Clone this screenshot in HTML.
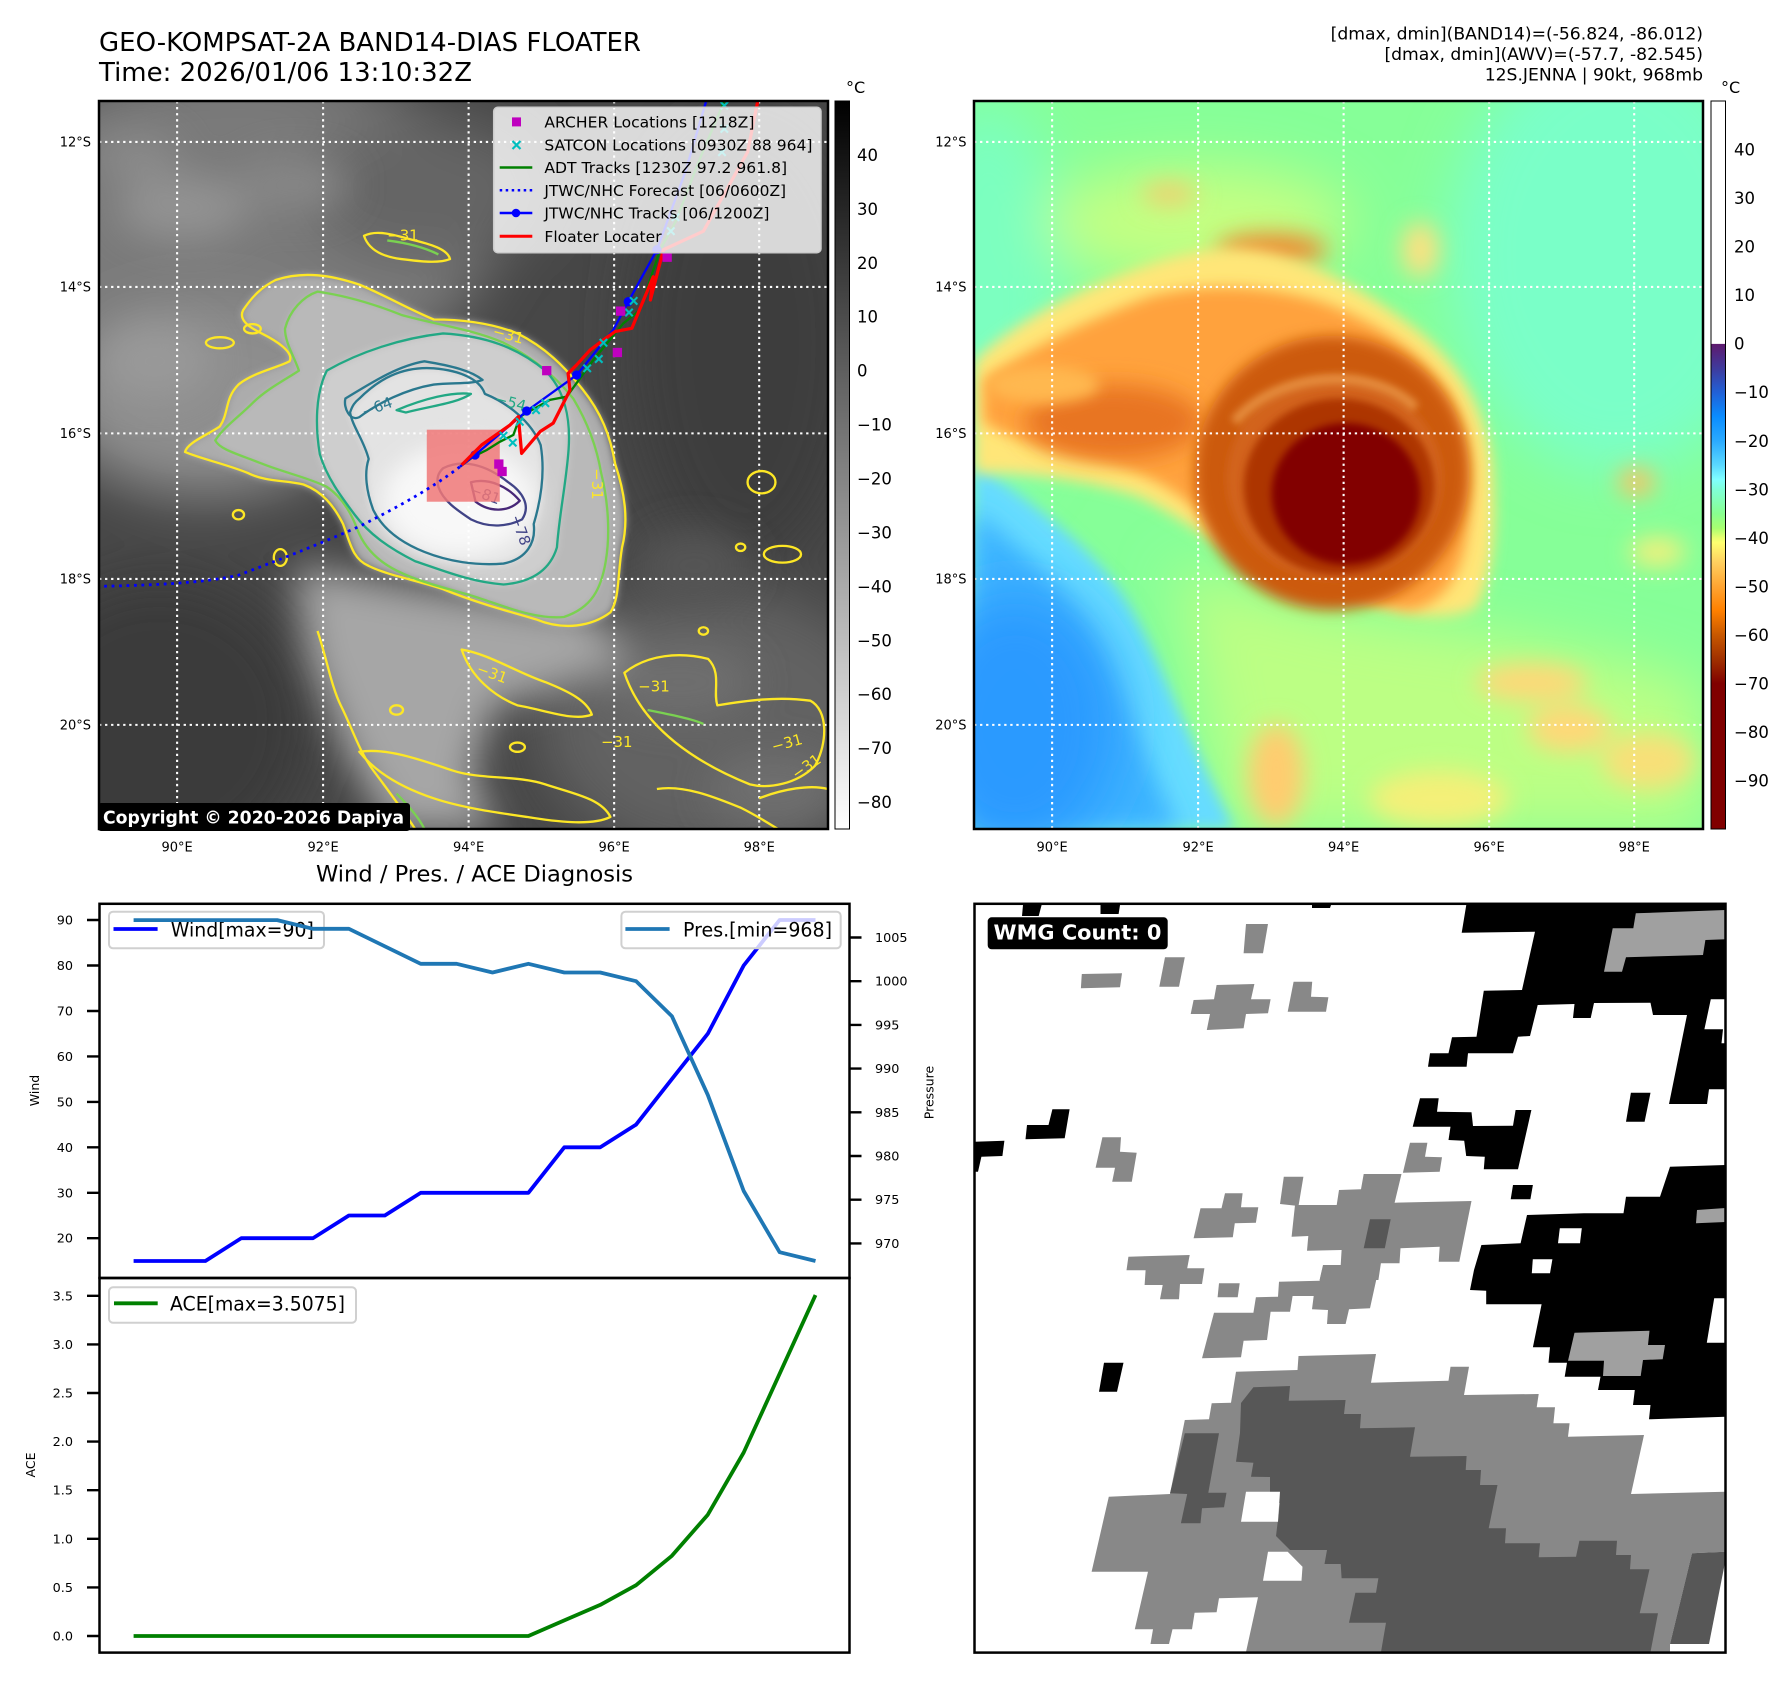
<!DOCTYPE html>
<html><head><meta charset="utf-8">
<style>
html,body{margin:0;padding:0;background:#fff;}
body{width:1792px;height:1690px;overflow:hidden;}
svg text{font-family:"DejaVu Sans","Liberation Sans",sans-serif;}
</style></head><body>
<svg width="1792" height="1690" viewBox="0 0 1792 1690" xmlns="http://www.w3.org/2000/svg">
<defs>
<filter id="f8" filterUnits="userSpaceOnUse" x="-400" y="-400" width="2400" height="2400"><feGaussianBlur stdDeviation="8"/></filter>
<filter id="f15" filterUnits="userSpaceOnUse" x="-400" y="-400" width="2400" height="2400"><feGaussianBlur stdDeviation="15"/></filter>
<filter id="f25" filterUnits="userSpaceOnUse" x="-400" y="-400" width="2400" height="2400"><feGaussianBlur stdDeviation="25"/></filter>
<filter id="f40" filterUnits="userSpaceOnUse" x="-400" y="-400" width="2400" height="2400"><feGaussianBlur stdDeviation="40"/></filter>
<filter id="f60" filterUnits="userSpaceOnUse" x="-400" y="-400" width="2400" height="2400"><feGaussianBlur stdDeviation="60"/></filter>
<linearGradient id="gcb1" x1="0" y1="0" x2="0" y2="1"><stop offset="0" stop-color="#000"/><stop offset="1" stop-color="#fff"/></linearGradient>
<linearGradient id="gcb2" x1="0" y1="0" x2="0" y2="1">
<stop offset="0" stop-color="#fff"/><stop offset="0.3333" stop-color="#fff"/>
<stop offset="0.3340" stop-color="#5e1a6e"/><stop offset="0.3667" stop-color="#3f3a9c"/>
<stop offset="0.4" stop-color="#2160d6"/><stop offset="0.4333" stop-color="#0a8cff"/>
<stop offset="0.4667" stop-color="#2aaaff"/><stop offset="0.5" stop-color="#5ad8ff"/>
<stop offset="0.52" stop-color="#80ffff"/><stop offset="0.5333" stop-color="#80ffd8"/>
<stop offset="0.5667" stop-color="#88ff90"/><stop offset="0.5867" stop-color="#a8ff70"/>
<stop offset="0.6" stop-color="#e8ff70"/><stop offset="0.6067" stop-color="#ffff70"/>
<stop offset="0.6333" stop-color="#ffd060"/><stop offset="0.6667" stop-color="#ffa532"/>
<stop offset="0.7" stop-color="#ff8000"/><stop offset="0.7333" stop-color="#c85800"/>
<stop offset="0.7667" stop-color="#a03000"/><stop offset="0.8" stop-color="#800000"/>
<stop offset="1" stop-color="#800000"/>
</linearGradient>
</defs>

<!-- Titles -->
<text x="99" y="51" font-size="25.6" fill="#000" textLength="542" lengthAdjust="spacingAndGlyphs">GEO-KOMPSAT-2A BAND14-DIAS FLOATER</text>
<text x="99" y="81" font-size="25.6" fill="#000" textLength="373" lengthAdjust="spacingAndGlyphs">Time: 2026/01/06 13:10:32Z</text>
<text x="1703" y="39.5" font-size="17.2" text-anchor="end" fill="#000">[dmax, dmin](BAND14)=(-56.824, -86.012)</text>
<text x="1703" y="60" font-size="17.2" text-anchor="end" fill="#000">[dmax, dmin](AWV)=(-57.7, -82.545)</text>
<text x="1703" y="80.7" font-size="17.2" text-anchor="end" fill="#000">12S.JENNA | 90kt, 968mb</text>

<!-- LEFT MAP -->
<svg x="99" y="101" width="729" height="728" viewBox="0 0 1568 1566" preserveAspectRatio="none">
<rect width="1568" height="1566" fill="#474747"/>
<g filter="url(#f60)">
<ellipse cx="300" cy="260" rx="560" ry="350" fill="#7a7a7a"/>
<ellipse cx="700" cy="190" rx="260" ry="160" fill="#656565"/>
<ellipse cx="230" cy="640" rx="330" ry="210" fill="#8e8e8e"/>
<ellipse cx="1390" cy="520" rx="250" ry="480" fill="#3d3d3d"/>
<ellipse cx="1330" cy="1340" rx="380" ry="290" fill="#626262"/>
<ellipse cx="130" cy="1340" rx="330" ry="320" fill="#3b3b3b"/>
</g>
<g filter="url(#f40)">
<path d="M420,1000 L700,1050 L1050,1100 L1150,1200 L1000,1260 L850,1300 L800,1450 L860,1568 L630,1568 L530,1400 L450,1200 Z" fill="#a6a6a6"/>
<ellipse cx="180" cy="230" rx="140" ry="70" fill="#929292"/>
<ellipse cx="420" cy="180" rx="120" ry="60" fill="#868686"/>
<ellipse cx="80" cy="120" rx="90" ry="50" fill="#8a8a8a"/>
<ellipse cx="120" cy="560" rx="120" ry="80" fill="#999"/>
<ellipse cx="1280" cy="1000" rx="120" ry="80" fill="#555"/>
<ellipse cx="1250" cy="1250" rx="160" ry="80" fill="#6e6e6e"/>
<ellipse cx="1450" cy="1480" rx="140" ry="80" fill="#6e6e6e"/>
</g>
<g filter="url(#f8)">
<path d="M380,385 C440,365 500,375 560,395 C620,420 660,445 720,470 C790,470 850,480 900,500 C960,530 1000,570 1040,620 C1080,670 1100,720 1110,780 C1130,840 1140,900 1125,960 C1115,1020 1120,1070 1100,1100 C1060,1130 1000,1140 940,1115 C870,1095 800,1075 740,1050 C680,1030 620,1020 580,1000 C545,985 540,950 525,910 C505,870 480,840 440,825 C400,815 360,820 320,800 C270,780 220,770 185,755 C190,735 230,720 260,700 C280,670 270,640 300,610 C330,585 380,575 410,560 C420,540 380,515 350,500 C320,485 300,470 310,450 C330,420 350,400 380,385 Z" fill="#acacac"/>
<path d="M470,410 C540,420 600,440 650,460 C720,480 800,490 870,520 C930,550 980,590 1020,640 C1050,690 1070,740 1080,800 C1095,860 1100,930 1090,990 C1080,1050 1060,1090 1000,1110 C940,1115 880,1090 820,1070 C760,1050 700,1040 640,1010 C600,990 570,960 555,920 C540,880 520,850 490,830 C450,810 400,800 350,780 C300,760 260,750 250,730 C270,700 300,680 330,650 C360,620 400,600 430,580 C420,550 400,520 400,490 C410,450 440,420 470,410 Z" fill="#b9b9b9"/>
<path d="M490,580 C560,540 650,510 740,500 C830,505 900,530 960,580 C1000,620 1015,680 1010,750 C1005,820 990,890 985,960 C970,1010 930,1035 870,1040 C800,1035 740,1010 680,990 C620,960 580,930 550,890 C520,850 490,810 475,760 C465,700 465,630 490,580 Z" fill="#cecece"/>
<path d="M560,640 C600,600 650,570 720,575 C780,580 820,600 830,630 C880,650 930,690 950,740 C960,800 950,860 935,910 C940,950 920,985 870,995 C810,1000 750,990 700,970 C650,950 610,920 590,880 C575,840 570,800 580,770 C570,730 545,700 540,670 C545,655 550,648 560,640 Z" fill="#e3e3e3"/>
</g>
<ellipse cx="775" cy="860" rx="165" ry="120" fill="#f8f8f8" filter="url(#f25)"/>
<!-- grid -->
<g stroke="#fff" stroke-width="4.5" stroke-dasharray="5 8" fill="none">
<path d="M168,0V1566M482,0V1566M795,0V1566M1108,0V1566M1420,0V1566"/>
<path d="M0,88H1568M0,400H1568M0,715H1568M0,1028H1568M0,1342H1568"/>
</g>
<!-- contours -->
<g fill="none" stroke-width="5" stroke-linejoin="round">
<path stroke="#fde725" d="M380,385 C440,365 500,375 560,395 C620,420 660,445 720,470 C790,470 850,480 900,500 C960,530 1000,570 1040,620 C1080,670 1100,720 1110,780 C1130,840 1140,900 1125,960 C1115,1020 1120,1070 1100,1100 C1060,1130 1000,1140 940,1115 C870,1095 800,1075 740,1050 C680,1030 620,1020 580,1000 C545,985 540,950 525,910 C505,870 480,840 440,825 C400,815 360,820 320,800 C270,780 220,770 185,755 C190,735 230,720 260,700 C280,670 270,640 300,610 C330,585 380,575 410,560 C420,540 380,515 350,500 C320,485 300,470 310,450 C330,420 350,400 380,385 Z"/>
<path stroke="#7ad151" d="M470,410 C540,420 600,440 650,460 C720,480 800,490 870,520 C930,550 980,590 1020,640 C1050,690 1070,740 1080,800 C1095,860 1100,930 1090,990 C1080,1050 1060,1090 1000,1110 C940,1115 880,1090 820,1070 C760,1050 700,1040 640,1010 C600,990 570,960 555,920 C540,880 520,850 490,830 C450,810 400,800 350,780 C300,760 260,750 250,730 C270,700 300,680 330,650 C360,620 400,600 430,580 C420,550 400,520 400,490 C410,450 440,420 470,410 Z"/>
<path stroke="#22a884" d="M490,580 C560,540 650,510 740,500 C830,505 900,530 960,580 C1000,620 1015,680 1010,750 C1005,820 990,890 985,960 C970,1010 930,1035 870,1040 C800,1035 740,1010 680,990 C620,960 580,930 550,890 C520,850 490,810 475,760 C465,700 465,630 490,580 Z"/>
<path stroke="#2a788e" d="M560,640 C600,600 650,570 720,575 C780,580 820,600 830,630 C880,650 930,690 950,740 C960,800 950,860 935,910 C940,950 920,985 870,995 C810,1000 750,990 700,970 C650,950 610,920 590,880 C575,840 570,800 580,770 C570,730 545,700 540,670 C545,655 550,648 560,640 Z"/>
<path stroke="#2a788e" d="M530,640 C580,610 640,570 700,560 C760,570 800,580 825,600 C800,610 760,605 720,610 C660,620 600,650 560,680 C540,690 525,660 530,640 Z"/>
<path stroke="#22a884" d="M640,665 C700,640 760,625 800,630 C770,650 720,655 660,670 Z"/>
<path stroke="#414487" d="M740,790 C780,770 830,780 880,820 C910,840 930,870 910,900 C880,915 840,920 800,900 C770,880 740,860 730,830 C725,810 730,800 740,790 Z"/>
<path stroke="#482878" d="M800,820 C840,810 880,830 905,860 C880,885 840,885 810,862 Z"/>
<path stroke="#fde725" d="M570,290 C600,275 640,290 680,300 C720,310 750,320 755,340 C730,350 690,345 650,340 C610,335 580,320 570,290 Z"/>
<path stroke="#7ad151" d="M620,300 C660,305 700,315 730,330"/>
<ellipse stroke="#fde725" cx="1425" cy="820" rx="30" ry="24"/>
<ellipse stroke="#fde725" cx="1470" cy="975" rx="40" ry="18"/>
<path stroke="#fde725" d="M470,1140 C490,1200 500,1260 520,1300 C545,1350 560,1400 590,1440 C620,1480 650,1520 680,1566"/>
<path stroke="#fde725" d="M780,1180 C840,1190 900,1230 960,1250 C1010,1270 1050,1290 1060,1320 C1020,1335 960,1310 900,1300 C850,1280 800,1240 780,1180 Z"/>
<path stroke="#fde725" d="M1130,1230 C1180,1190 1250,1185 1310,1200 C1340,1230 1320,1270 1330,1300 C1390,1290 1460,1280 1530,1290 C1568,1310 1568,1380 1540,1430 C1500,1470 1440,1480 1400,1470 C1350,1450 1290,1420 1240,1380 C1190,1340 1150,1290 1130,1230 Z"/>
<path stroke="#7ad151" d="M1180,1310 C1230,1320 1280,1330 1300,1340"/>
<path stroke="#fde725" d="M560,1400 C620,1390 700,1420 760,1440 C820,1460 900,1450 960,1470 C1020,1490 1080,1500 1100,1540 C1060,1560 980,1550 920,1540 C850,1530 780,1520 720,1500 C660,1480 600,1450 560,1400 Z"/>
<path stroke="#fde725" d="M1200,1480 C1260,1470 1330,1500 1380,1520 C1420,1540 1450,1560 1460,1566"/>
<path stroke="#fde725" d="M1420,1500 C1470,1480 1530,1470 1568,1480"/>
<path stroke="#7ad151" d="M640,1490 C670,1520 690,1545 700,1566"/>
<ellipse stroke="#fde725" cx="390" cy="982" rx="14" ry="18"/>
<ellipse stroke="#fde725" cx="260" cy="520" rx="30" ry="12"/>
<ellipse stroke="#fde725" cx="330" cy="490" rx="18" ry="10"/>
<ellipse stroke="#fde725" cx="300" cy="890" rx="12" ry="10"/>
<ellipse stroke="#fde725" cx="1380" cy="960" rx="10" ry="8"/>
<ellipse stroke="#fde725" cx="1300" cy="1140" rx="10" ry="8"/>
<ellipse stroke="#fde725" cx="640" cy="1310" rx="14" ry="10"/>
<ellipse stroke="#fde725" cx="900" cy="1390" rx="16" ry="10"/>
</g>
<g font-size="32" font-family="DejaVu Sans, sans-serif">
<text x="845" y="505" fill="#fde725" transform="rotate(15 845 505)">−31</text>
<text x="620" y="300" fill="#fde725">−31</text>
<text x="850" y="650" fill="#22a884" transform="rotate(15 850 650)">−54</text>
<text x="570" y="680" fill="#2a788e" transform="rotate(-20 570 680)">−64</text>
<text x="795" y="845" fill="#414487" transform="rotate(20 795 845)">−81</text>
<text x="885" y="895" fill="#414487" transform="rotate(70 885 895)">−78</text>
<text x="1060" y="790" fill="#fde725" transform="rotate(90 1060 790)">−31</text>
<text x="810" y="1230" fill="#fde725" transform="rotate(20 810 1230)">−31</text>
<text x="1160" y="1270" fill="#fde725">−31</text>
<text x="1080" y="1390" fill="#fde725">−31</text>
<text x="1450" y="1400" fill="#fde725" transform="rotate(-15 1450 1400)">−31</text>
<text x="1500" y="1460" fill="#fde725" transform="rotate(-35 1500 1460)">−31</text>
</g>
<rect x="705" y="707" width="157" height="155" fill="#f07878" fill-opacity="0.85"/>
<!-- tracks -->
<path d="M776,787 C720,830 650,870 560,915 C470,955 380,990 300,1020 C220,1038 100,1042 0,1044" fill="none" stroke="#0000ff" stroke-width="6" stroke-dasharray="6 10"/>
<path d="M1345,0 L1290,130 L1240,260 L1206.7,320.5 L1163.7,449.6 L1127.8,478.2 L1063.3,557.1 L1006,636 L970,643 L905.6,679 L891.2,718.4 L862.6,732.8 L834,750.7 L805.1,765.1 L776.5,786.6" fill="none" stroke="#008000" stroke-width="5"/>
<path d="M1306,0 L1262,150 L1200,320 L1138.5,431.7 L1106,492.6 L1027.5,589.4 L920,666.8 L808.8,761.5 L776.5,786.6" fill="none" stroke="#0000ff" stroke-width="5"/>
<g fill="#0000ff"><circle cx="1200" cy="320" r="10"/><circle cx="1138.5" cy="431.7" r="10"/><circle cx="1027.5" cy="589.4" r="10"/><circle cx="920" cy="666.8" r="10"/><circle cx="808.8" cy="761.5" r="10"/></g>
<path d="M1417,0 L1395,110 L1300,280 L1214,320 L1186,428 L1192,378 L1146,489 L1110,496 L1085,514 L1056,536 L1027,568 L1009,586 L1013,622 L977,693 L949,711 L909,758 L902,679 L884,697 L823,740 L780,783" fill="none" stroke="#ff0000" stroke-width="7" stroke-linejoin="round"/>
<g stroke="#00bfbf" stroke-width="4.5">
<path d="M1077,512l16,16m0,-16l-16,16M1067,547l16,16m0,-16l-16,16M1042,567l16,16m0,-16l-16,16M952,642l16,16m0,-16l-16,16M932,657l16,16m0,-16l-16,16M897,682l16,16m0,-16l-16,16M882,727l16,16m0,-16l-16,16M862,712l16,16m0,-16l-16,16M1132,447l16,16m0,-16l-16,16M1142,422l16,16m0,-16l-16,16M1337,2l16,16m0,-16l-16,16M1337,52l16,16m0,-16l-16,16M1332,102l16,16m0,-16l-16,16M1232,242l16,16m0,-16l-16,16M1222,272l16,16m0,-16l-16,16"/>
</g>
<g fill="#bf00bf">
<rect x="953" y="570" width="20" height="20"/><rect x="1105" y="531" width="20" height="20"/>
<rect x="850" y="771" width="20" height="20"/><rect x="857" y="787" width="20" height="20"/>
<rect x="1212" y="326" width="20" height="20"/><rect x="1112" y="442" width="20" height="20"/>
</g>
</svg>
<rect x="99" y="101" width="729" height="728" fill="none" stroke="#000" stroke-width="2.5"/>

<!-- left legend -->
<rect x="493.7" y="107.3" width="327.3" height="145.4" rx="4" fill="#fff" fill-opacity="0.8" stroke="#cccccc" stroke-width="1.5"/>
<rect x="512" y="117.4" width="9" height="9" fill="#bf00bf"/>
<path d="M512.5,141l8,8m0,-8l-8,8" stroke="#00bfbf" stroke-width="2.2"/>
<line x1="499.7" y1="167.5" x2="532.3" y2="167.5" stroke="#008000" stroke-width="2.5"/>
<line x1="499.7" y1="190.3" x2="532.3" y2="190.3" stroke="#0000ff" stroke-width="2.5" stroke-dasharray="2.5 3.5"/>
<line x1="499.7" y1="213" x2="532.3" y2="213" stroke="#0000ff" stroke-width="2.5"/>
<circle cx="516" cy="213" r="4.3" fill="#0000ff"/>
<line x1="499.7" y1="236.3" x2="532.3" y2="236.3" stroke="#ff0000" stroke-width="3"/>
<g font-size="15.5" fill="#000">
<text x="544.4" y="127.4" textLength="210" lengthAdjust="spacingAndGlyphs">ARCHER Locations [1218Z]</text>
<text x="544.4" y="150.7" textLength="268" lengthAdjust="spacingAndGlyphs">SATCON Locations [0930Z 88 964]</text>
<text x="544.4" y="173" textLength="242.7" lengthAdjust="spacingAndGlyphs">ADT Tracks [1230Z 97.2 961.8]</text>
<text x="544.4" y="195.8" textLength="241.7" lengthAdjust="spacingAndGlyphs">JTWC/NHC Forecast [06/0600Z]</text>
<text x="544.4" y="218.5" textLength="225" lengthAdjust="spacingAndGlyphs">JTWC/NHC Tracks [06/1200Z]</text>
<text x="544.4" y="241.8" textLength="117.2" lengthAdjust="spacingAndGlyphs">Floater Locater</text>
</g>
<!-- copyright -->
<rect x="98" y="803" width="312" height="28" rx="3" fill="#000"/>
<text x="103" y="823.3" font-size="17.8" font-weight="bold" fill="#fff" textLength="301" lengthAdjust="spacingAndGlyphs">Copyright © 2020-2026 Dapiya</text>

<!-- left colorbar -->
<rect x="835" y="101" width="14.5" height="728" fill="url(#gcb1)" stroke="#000" stroke-width="1"/>
<text x="846" y="93" font-size="16" fill="#000">°C</text>
<g font-size="16.5" fill="#000">
<text x="857" y="160.9">40</text><text x="857" y="214.9">30</text><text x="857" y="268.8">20</text>
<text x="857" y="322.7">10</text><text x="857" y="376.6">0</text><text x="857" y="430.6">−10</text>
<text x="857" y="484.5">−20</text><text x="857" y="538.4">−30</text><text x="857" y="592.4">−40</text>
<text x="857" y="646.3">−50</text><text x="857" y="700.2">−60</text><text x="857" y="754.1">−70</text>
<text x="857" y="808.1">−80</text>
</g>

<!-- map tick labels -->
<g font-size="13" fill="#000" text-anchor="end">
<text x="91" y="146.4">12°S</text><text x="91" y="291.5">14°S</text><text x="91" y="437.9">16°S</text><text x="91" y="583.5">18°S</text><text x="91" y="729.5">20°S</text>
<text x="966.5" y="146.4">12°S</text><text x="966.5" y="291.5">14°S</text><text x="966.5" y="437.9">16°S</text><text x="966.5" y="583.5">18°S</text><text x="966.5" y="729.5">20°S</text>
</g>
<g font-size="13" fill="#000" text-anchor="middle">
<text x="177.1" y="851.5">90°E</text><text x="323.1" y="851.5">92°E</text><text x="468.6" y="851.5">94°E</text><text x="614.1" y="851.5">96°E</text><text x="759.2" y="851.5">98°E</text>
<text x="1052.1" y="851.5">90°E</text><text x="1198.1" y="851.5">92°E</text><text x="1343.6" y="851.5">94°E</text><text x="1489.1" y="851.5">96°E</text><text x="1634.2" y="851.5">98°E</text>
</g>

<!-- RIGHT MAP -->
<svg x="974" y="101" width="729" height="728" viewBox="0 0 1568 1566" preserveAspectRatio="none">
<rect width="1568" height="1566" fill="#86ff98"/>
<g filter="url(#f60)">
<ellipse cx="1380" cy="330" rx="360" ry="470" fill="#7affc8"/>
<ellipse cx="30" cy="420" rx="170" ry="420" fill="#7cffc0"/>
<ellipse cx="480" cy="260" rx="330" ry="120" fill="#c4ff82"/>
<path d="M430,1000 C600,1060 800,1110 1000,1130 C1200,1160 1450,1210 1568,1260 L1568,1566 L560,1566 C520,1450 480,1200 430,1000 Z" fill="#bcff84"/>
</g>
<g filter="url(#f25)">
<ellipse cx="1200" cy="1250" rx="120" ry="40" fill="#ffd878"/>
<ellipse cx="650" cy="1450" rx="60" ry="110" fill="#ffcc70"/>
<ellipse cx="1000" cy="1500" rx="150" ry="60" fill="#f4f078"/>
<ellipse cx="1450" cy="1420" rx="100" ry="60" fill="#f8e078"/>
<ellipse cx="1280" cy="1350" rx="90" ry="50" fill="#ffd878"/>
<ellipse cx="1425" cy="820" rx="40" ry="30" fill="#ffc060"/>
<ellipse cx="640" cy="320" rx="120" ry="35" fill="#f08a30"/>
<ellipse cx="960" cy="320" rx="40" ry="60" fill="#ffe080"/>
<ellipse cx="1470" cy="970" rx="60" ry="30" fill="#f8f07a"/>
<ellipse cx="420" cy="200" rx="60" ry="25" fill="#f0d070"/>
</g>
<path d="M0,780 C120,860 260,960 330,1080 C400,1200 450,1350 560,1566 L0,1566 Z" fill="#66dcff" filter="url(#f15)"/>
<path d="M0,880 C100,960 200,1050 260,1160 C320,1280 370,1420 440,1566 L0,1566 Z" fill="#3cb4ff" filter="url(#f25)"/>
<ellipse cx="90" cy="1340" rx="220" ry="280" fill="#2a9aff" filter="url(#f60)"/>
<path d="M0,560 C80,480 200,420 300,380 C420,330 540,300 650,330 C760,360 860,420 950,490 C1040,560 1100,660 1115,780 C1125,900 1120,1020 1080,1090 C1020,1120 940,1110 860,1080 C760,1040 660,1010 560,970 C480,930 420,880 350,850 C260,820 140,800 0,800 Z" fill="#ffe678" filter="url(#f15)"/>
<path d="M20,600 C120,530 250,470 380,420 C500,390 620,395 740,430 C860,470 960,540 1020,630 C1070,720 1075,830 1060,930 C1050,1020 1010,1080 940,1095 C870,1090 800,1060 720,1020 C630,980 550,940 480,880 C410,820 340,790 250,770 C150,750 60,720 20,690 Z" fill="#ffa23c" filter="url(#f15)"/>
<ellipse cx="300" cy="690" rx="190" ry="80" fill="#e87420" filter="url(#f25)"/>
<ellipse cx="150" cy="610" rx="120" ry="40" fill="#ffb850" filter="url(#f15)"/>
<ellipse cx="770" cy="800" rx="295" ry="295" fill="#cc5a0c" filter="url(#f15)"/>
<ellipse cx="775" cy="812" rx="232" ry="218" fill="#d2641a" filter="url(#f8)"/>
<path d="M560,690 C620,620 720,590 820,600 C880,610 920,630 950,660" fill="none" stroke="#e58c3c" stroke-width="22" filter="url(#f8)"/>
<ellipse cx="785" cy="830" rx="205" ry="190" fill="#ad3600" filter="url(#f8)"/>
<ellipse cx="800" cy="845" rx="160" ry="152" fill="#820000" filter="url(#f8)"/>
<g stroke="#fff" stroke-width="4.5" stroke-dasharray="5 8" fill="none">
<path d="M168,0V1566M482,0V1566M795,0V1566M1108,0V1566M1420,0V1566"/>
<path d="M0,88H1568M0,400H1568M0,715H1568M0,1028H1568M0,1342H1568"/>
</g>
</svg>
<rect x="974" y="101" width="729" height="728" fill="none" stroke="#000" stroke-width="2.5"/>

<!-- right colorbar -->
<rect x="1711" y="101" width="14.5" height="728" fill="url(#gcb2)" stroke="#000" stroke-width="1"/>
<text x="1721" y="93" font-size="16" fill="#000">°C</text>
<g font-size="16.5" fill="#000">
<text x="1734" y="155.5">40</text><text x="1734" y="204.1">30</text><text x="1734" y="252.7">20</text>
<text x="1734" y="301.2">10</text><text x="1734" y="349.7">0</text><text x="1734" y="398.2">−10</text>
<text x="1734" y="446.8">−20</text><text x="1734" y="495.3">−30</text><text x="1734" y="543.8">−40</text>
<text x="1734" y="592.3">−50</text><text x="1734" y="640.9">−60</text><text x="1734" y="689.4">−70</text>
<text x="1734" y="737.9">−80</text><text x="1734" y="786.5">−90</text>
</g>

<!-- BOTTOM LEFT CHART -->
<text x="474.5" y="881.7" font-size="22.4" text-anchor="middle" fill="#000" textLength="317" lengthAdjust="spacingAndGlyphs">Wind / Pres. / ACE Diagnosis</text>
<rect x="109" y="911.7" width="215" height="36.6" rx="4" fill="#fff" fill-opacity="0.8" stroke="#d0d0d0" stroke-width="2"/>
<polyline fill="none" stroke="#0000ff" stroke-width="3.8" stroke-linejoin="round" points="133.6,1261 169.5,1261 205.4,1261 241.3,1238.2 277.2,1238.2 313,1238.2 348.9,1215.5 384.8,1215.5 420.7,1192.8 456.6,1192.8 492.5,1192.8 528.4,1192.8 564.3,1147.3 600.2,1147.3 636.1,1124.6 671.9,1079.1 707.8,1033.7 743.7,965.5 779.6,920 815.5,920"/>
<line x1="113.5" y1="929" x2="157.6" y2="929" stroke="#0000ff" stroke-width="3.8"/>
<text x="170.8" y="936.7" font-size="19.5" fill="#000" textLength="143" lengthAdjust="spacingAndGlyphs">Wind[max=90]</text>
<polyline fill="none" stroke="#1f77b4" stroke-width="3.8" stroke-linejoin="round" points="133.6,920.1 169.5,920.1 205.4,920.1 241.3,920.1 277.2,920.1 313,928.8 348.9,928.8 384.8,946.3 420.7,963.8 456.6,963.8 492.5,972.5 528.4,963.8 564.3,972.5 600.2,972.5 636.1,981.2 671.9,1016.2 707.8,1094.9 743.7,1191 779.6,1252.2 815.5,1261"/>
<rect x="621.4" y="911.7" width="219.3" height="36.6" rx="4" fill="#fff" fill-opacity="0.8" stroke="#d0d0d0" stroke-width="2"/>
<line x1="625.4" y1="929" x2="669.6" y2="929" stroke="#1f77b4" stroke-width="3.8"/>
<text x="683" y="936.7" font-size="19.5" fill="#000" textLength="149" lengthAdjust="spacingAndGlyphs">Pres.[min=968]</text>
<polyline fill="none" stroke="#008000" stroke-width="3.8" stroke-linejoin="round" points="133.6,1636 169.5,1636 205.4,1636 241.3,1636 277.2,1636 313,1636 348.9,1636 384.8,1636 420.7,1636 456.6,1636 492.5,1636 528.4,1636 564.3,1620.4 600.2,1604.9 636.1,1585.2 671.9,1555.8 707.8,1514.7 743.7,1452.5 779.6,1373.8 815.5,1295.1"/>
<rect x="109" y="1287.3" width="247" height="35.4" rx="4" fill="#fff" fill-opacity="0.8" stroke="#d0d0d0" stroke-width="2"/>
<line x1="114" y1="1303.3" x2="157.7" y2="1303.3" stroke="#008000" stroke-width="3.8"/>
<text x="170" y="1310.7" font-size="19.5" fill="#000" textLength="175" lengthAdjust="spacingAndGlyphs">ACE[max=3.5075]</text>
<rect x="99.5" y="903.8" width="750" height="374.2" fill="none" stroke="#000" stroke-width="2.5"/>
<rect x="99.5" y="1278" width="750" height="374.6" fill="none" stroke="#000" stroke-width="2.5"/>
<g stroke="#000" stroke-width="2.4">
<path d="M87,920H99.5M87,965.5H99.5M87,1011H99.5M87,1056.4H99.5M87,1101.9H99.5M87,1147.3H99.5M87,1192.8H99.5M87,1238.2H99.5"/>
<path d="M849.5,937.5H861.5M849.5,981.2H861.5M849.5,1024.9H861.5M849.5,1068.6H861.5M849.5,1112.3H861.5M849.5,1156H861.5M849.5,1199.7H861.5M849.5,1243.4H861.5"/>
<path d="M87,1295.8H99.5M87,1344.4H99.5M87,1393H99.5M87,1441.6H99.5M87,1490.2H99.5M87,1538.8H99.5M87,1587.4H99.5M87,1636H99.5"/>
</g>
<g font-size="12.8" fill="#000" text-anchor="end">
<text x="73" y="924.5">90</text><text x="73" y="970">80</text><text x="73" y="1015.5">70</text><text x="73" y="1060.9">60</text>
<text x="73" y="1106.4">50</text><text x="73" y="1151.8">40</text><text x="73" y="1197.3">30</text><text x="73" y="1242.7">20</text>
<text x="73" y="1300.3">3.5</text><text x="73" y="1348.9">3.0</text><text x="73" y="1397.5">2.5</text><text x="73" y="1446.1">2.0</text>
<text x="73" y="1494.7">1.5</text><text x="73" y="1543.3">1.0</text><text x="73" y="1591.9">0.5</text><text x="73" y="1640.5">0.0</text>
</g>
<g font-size="12.8" fill="#000">
<text x="875" y="942">1005</text><text x="875" y="985.7">1000</text><text x="875" y="1029.4">995</text><text x="875" y="1073.1">990</text>
<text x="875" y="1116.8">985</text><text x="875" y="1160.5">980</text><text x="875" y="1204.2">975</text><text x="875" y="1247.9">970</text>
</g>
<text transform="translate(39,1090.5) rotate(-90)" font-size="12.5" text-anchor="middle" fill="#000">Wind</text>
<text transform="translate(35,1465) rotate(-90)" font-size="12.5" text-anchor="middle" fill="#000">ACE</text>
<text transform="translate(933.5,1092.5) rotate(-90)" font-size="12.5" text-anchor="middle" fill="#000">Pressure</text>

<!-- WMG PANEL -->
<rect x="974.5" y="903.8" width="751" height="748.8" fill="#fff"/>
<g fill="#888888">
<polygon points="1246,924 1268,924 1263,953.3 1243.6,953.3"/>
<polygon points="1081.8,974 1122,973.3 1120,987.3 1080.9,988.3"/>
<polygon points="1165,957.3 1184.8,957.3 1179,986.7 1159.3,986.7"/>
<polygon points="1216.6,985 1254.4,984 1251,999.3 1270.6,999.3 1268,1013.3 1246,1014 1243.6,1028.3 1206.8,1030 1210,1014 1190.7,1014 1193.6,1000 1214,999.3"/>
<polygon points="1293.6,981.7 1312.2,981.7 1311,996.7 1328.4,997.3 1326,1011.7 1287.7,1011.7"/>
<polygon points="1102.4,1137.3 1121,1137.3 1120,1151.7 1136.7,1152.7 1131.8,1181.7 1112.2,1181.7 1115,1167.7 1095.6,1167.7"/>
<polygon points="1410,1142.7 1427.4,1142.7 1425,1156.7 1442,1157.3 1439.7,1171.7 1402.9,1172.7"/>
<polygon points="1225,1193.3 1242.6,1193.3 1241,1207.3 1258.3,1207.3 1255.9,1222.7 1234.8,1223.3 1232.8,1237.3 1193.6,1238.3 1200.5,1208.3 1221.5,1208.3"/>
<polygon points="1295,1205 1336.7,1205 1339,1190 1361,1189.3 1363.7,1174 1401.5,1174 1394.6,1202.7 1471.5,1201 1459.3,1261.7 1438.7,1261.7 1439.7,1246.7 1400.5,1248.3 1399.5,1263.3 1380.9,1263.3 1378.4,1280 1319.6,1280 1323,1265 1340.7,1265 1341.6,1250 1307,1250.7 1308.3,1236 1291.6,1236.7"/>
<polygon points="1202,1358.3 1214,1312.7 1253.4,1312.7 1255.9,1297.3 1278,1296.7 1279,1281.7 1319.6,1280.7 1322,1270 1378.4,1270 1370,1308.3 1349,1309.3 1345.6,1324 1327,1324 1328,1310 1312,1309.3 1313.7,1296 1292.6,1296 1290,1311.7 1270.6,1311.7 1267,1340 1243.6,1340.7 1241,1357.3"/>
<polygon points="1280,1204 1283.8,1176.7 1303.4,1176.7 1298.5,1206"/>
<polygon points="1128.4,1256.7 1189.7,1255 1187.2,1268.3 1204.4,1268.3 1202,1284 1180,1284 1179,1299.3 1160,1299.3 1162.7,1285 1144.6,1285 1145.6,1270.3 1126.5,1270.3"/>
<polygon points="1219,1283.3 1239.7,1283.3 1237.7,1297.3 1217.6,1297.3"/>
<polygon points="1236,1371.7 1297.5,1370 1298.5,1356 1376,1354 1371,1382.7 1448.5,1380.7 1450.5,1366.7 1469,1366.7 1464,1395 1538.7,1394 1536.7,1407.3 1555,1407.3 1553.4,1423.3 1569.6,1423.3 1568,1436.7 1644,1435 1631,1494 1725.5,1491.7 1725.5,1551.7 1692,1553.3 1670,1644 1670,1652 1246,1652 1258,1597.3 1219,1598.3 1216.6,1612.3 1194.6,1612.7 1192,1629.3 1172.5,1629.3 1169,1644 1150.5,1644 1153,1629.3 1134.8,1629.3 1148,1571.7 1091.6,1571.7 1108.8,1496.7 1170,1494 1184.8,1420 1209,1419.3 1211.7,1403.3 1231,1402.7"/>
</g>
<g fill="#575757">
<polygon points="1370,1219.3 1390.7,1219.3 1384.8,1248.3 1363.7,1248.3"/>
<polygon points="1253.4,1387.3 1290,1386 1288.7,1400.7 1345.6,1400 1344,1414 1361,1414 1360,1428.3 1415,1427.3 1410,1456.7 1466.6,1456 1465.7,1470 1481,1470 1480,1485 1497.5,1485 1488.7,1528.3 1506,1528.3 1505,1543.3 1540,1543.3 1538.7,1557.3 1576,1556.7 1579.4,1540.7 1617,1540.7 1616,1555 1631,1555 1630,1569.3 1649.5,1569.3 1639.7,1613.3 1658,1613.3 1650.5,1652 1381,1652 1386,1622.7 1349,1622.7 1355.4,1592.7 1376,1592.7 1378.4,1578.3 1341.6,1578.3 1340.7,1564 1324.5,1564 1327,1550 1290,1550 1276,1536 1280,1503 1270,1503 1270,1477 1251,1476.7 1253.4,1462.7 1236,1461.7 1240,1433 1241,1403"/>
<polygon points="1184.8,1433.3 1219,1433.3 1208.3,1492.7 1226.5,1492.7 1224,1507.3 1202,1508.3 1200.5,1523.3 1180.9,1523.3 1187.2,1494 1170,1493.3"/>
<polygon points="1692,1553.3 1725.5,1551.7 1725.5,1560 1709,1644 1670,1644"/>
</g>
<g fill="#fff">
<polygon points="1246,1491.7 1280,1491.7 1278,1521.7 1241,1521.7"/>
<polygon points="1268,1551.7 1287.7,1551.7 1302.5,1566.7 1301.5,1580.7 1263,1580.7"/>
</g>
<g fill="#000">
<polygon points="1466.6,903 1725.5,903 1725.5,1089.3 1709,1089.3 1707,1104 1669,1104 1687,1015 1653,1015 1650.5,1002.7 1594,1003 1590.7,1018 1573,1018 1574.5,1004 1537.7,1005 1530,1036 1518,1036.7 1513,1053.3 1468,1053.3 1466.6,1066.7 1428,1066.7 1430,1053.3 1448.5,1053.3 1452,1037.3 1476.5,1036.7 1483.8,990.7 1522,990 1535,931.7 1461.7,932.7"/>
<polygon points="1420,1098.3 1438.7,1098.3 1437,1111.7 1471.5,1112.3 1473,1126 1513,1125.7 1515.6,1110 1531.4,1110 1518,1169.3 1483.8,1169.3 1484.8,1156.7 1466.2,1156 1464.2,1140.7 1448.5,1140 1450.5,1126.7 1412.7,1126.7"/>
<polygon points="1527,1215 1584,1213.3 1623.5,1213.3 1626,1196.7 1660,1196.7 1670,1166.7 1725.5,1165 1725.5,1416.7 1649,1419.3 1650.5,1405 1633,1405 1634.8,1390 1598,1390 1600.5,1376.7 1564.7,1376.7 1567,1362.7 1548.5,1362.7 1550,1347.3 1532.9,1347.3 1541.6,1304.3 1486.2,1304.3 1486.2,1290.7 1470,1290 1474,1270 1481.4,1245 1520.6,1243.3"/>
<polygon points="1023,905 1041.6,905 1038.7,916 1022,916"/>
<polygon points="1100.5,905 1120,905 1118.6,914 1100.5,914"/>
<polygon points="1312,905 1331,905 1330,908 1312,908"/>
<polygon points="1052.4,1109.3 1069.6,1109.3 1064.7,1138.3 1025.5,1139.3 1027,1125 1048.5,1125"/>
<polygon points="974.5,1141.7 1004.4,1140.7 1002.4,1156 981.4,1156.7 978,1171.7 974.5,1171.7"/>
<polygon points="1630.9,1092.7 1650.5,1092.7 1644.6,1121.7 1626,1121.7"/>
<polygon points="1513,1185 1532.9,1185 1530.4,1199.3 1510.7,1199.3"/>
<polygon points="1104,1362.7 1123.5,1362.7 1117,1391.7 1099,1391.7"/>
</g>
<g fill="#a0a0a0">
<polygon points="1635.8,913.3 1725.5,910 1725.5,939.3 1705.4,940 1703,955 1626,957.3 1622,971.7 1604,971.7 1612.7,928.3 1633.3,928.3"/>
<polygon points="1574.5,1332.7 1649.5,1330.7 1648,1345 1665,1345 1662.7,1359.3 1643,1360 1640.7,1376 1603,1376 1604,1360.7 1568,1360.7"/>
<polygon points="1697,1210 1725.5,1208 1725.5,1222 1696,1223.3"/>
</g>
<g fill="#fff">
<polygon points="1710.8,999.3 1725.5,999.3 1725.5,1043.3 1721.5,1043.3 1723,1029.3 1704.4,1029.3"/>
<polygon points="1559.8,1228.3 1581.8,1228.3 1580,1243.3 1558,1243.3"/>
<polygon points="1532.8,1259.3 1552.4,1259.3 1550,1273.3 1531.8,1273.3"/>
<polygon points="1714.2,1298.3 1725.5,1298.3 1725.5,1342.7 1706.8,1342.7"/>
</g>
<rect x="974.5" y="903.8" width="751" height="748.8" fill="none" stroke="#000" stroke-width="2.5"/>
<rect x="987.7" y="917.3" width="180" height="32" rx="4" fill="#000"/>
<text x="993.5" y="939.5" font-size="20" font-weight="bold" fill="#fff" textLength="168" lengthAdjust="spacingAndGlyphs">WMG Count: 0</text>
</svg>
</body></html>
